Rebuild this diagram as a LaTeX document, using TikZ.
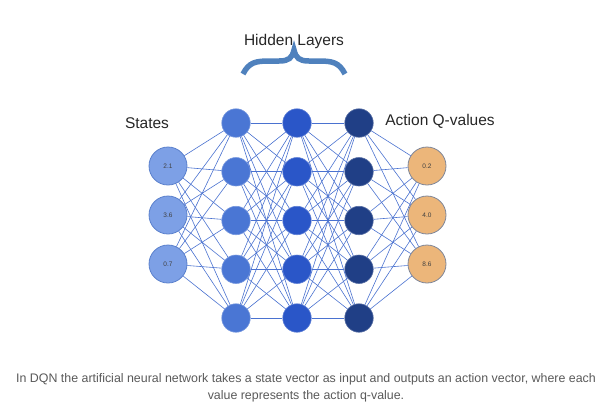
\documentclass[tikz,border=0pt]{standalone}
\usepackage{fontspec}
\setmainfont{Liberation Sans}
\definecolor{inblue}{HTML}{7DA0E6}
\definecolor{inedge}{HTML}{5A80CC}
\definecolor{hidA}{HTML}{4A76D4}
\definecolor{hidB}{HTML}{2A56C8}
\definecolor{hidC}{HTML}{203F86}
\definecolor{qorange}{HTML}{ECB67A}
\definecolor{qedge}{HTML}{7E8699}
\definecolor{linkblue}{HTML}{4A72D0}
\definecolor{bracecol}{HTML}{4F81BD}

\begin{document}
\begin{tikzpicture}[x=1pt,y=-1pt,
	link/.style={draw=linkblue,line width=.6pt},
	unit/.style={circle,inner sep=0pt,minimum size=28.5pt,fill=#1,draw=#1!75!white,line width=.6pt},
	value/.style={circle,inner sep=0pt,minimum size=38pt,line width=.8pt,font=\fontsize{6.5}{7}\selectfont,text=black!75},
	title/.style={anchor=base,font=\fontsize{15.5}{18}\selectfont,text=black!85},
	caption/.style={anchor=base,font=\fontsize{12.4}{14}\selectfont,text=black!65}]
	\useasboundingbox (0,0) rectangle (612,402);
		\foreach \n / \v in {1/2.1,2/3.6,3/0.7} { \node[value,fill=inblue,draw=inedge] (s\n) at (168,{166+49*(\n-1)}) {\v};}
		\foreach \n / \v in {1/0.2,2/4.0,3/8.6} { \node[value,fill=qorange,draw=qedge] (q\n) at (427,{166+49*(\n-1)}) {\v};}
		\foreach \l / \x / \c in {1/236/hidA,2/297/hidB,3/359/hidC} {
			\foreach \n in {1,...,5} { \node[unit=\c] (h\l\n) at (\x,{123+48.75*(\n-1)}) {};}
		}
		\foreach \i in {1,2,3} \foreach \j in {1,...,5} { \draw[link] (s\i) -- (h1\j); \draw[link] (h3\j) -- (q\i);}
		\foreach \i in {1,...,5} \foreach \j in {1,...,5} { \draw[link] (h1\i) -- (h2\j); \draw[link] (h2\i) -- (h3\j);}
%		\draw (0,0) grid[step=50] (612,402);
		\node[title] (hidden) at (294,45) {Hidden Layers};
		\node[title] (states) at (147,128) {States};
		\node[title] (actions) at (440,125) {Action Q-values};
		\draw[bracecol,line width=5.5pt] (243,74) .. controls (249,62) and (256,61) .. (270,61) -- (279,61) .. controls (289,61) and (292,58) .. (294,50)
			.. controls (296,58) and (299,61) .. (309,61) -- (318,61) .. controls (332,61) and (339,62) .. (345,74);
		\node[caption] (cap1) at (306,382) {In DQN the artificial neural network takes a state vector as input and outputs an action vector, where each};
		\node[caption] (cap2) at (306,399) {value represents the action q-value.};
	\end{tikzpicture}
\end{document}
